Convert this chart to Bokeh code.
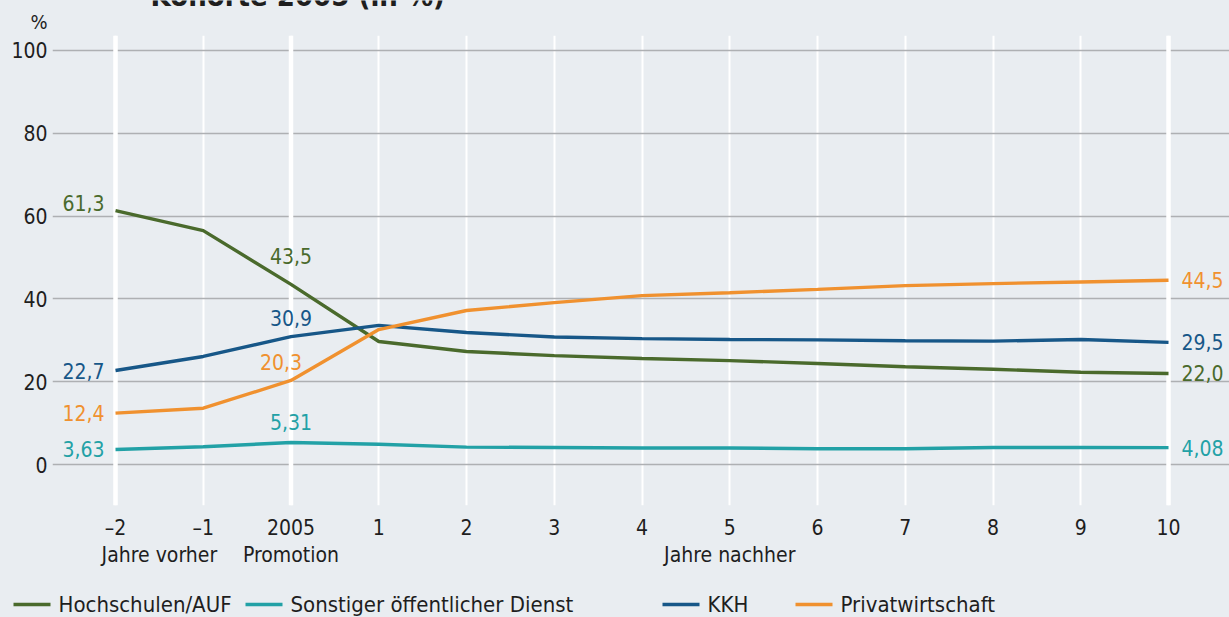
from bokeh.plotting import figure
from bokeh.models import Range1d, FixedTicker, LinearAxis, Span
from bokeh.layouts import column
from bokeh.core.properties import value
from bokeh.embed import file_html
from bokeh.resources import INLINE

# ---- data ----
x_labels = ["–2", "–1", "2005", "1", "2", "3", "4", "5", "6", "7", "8", "9", "10"]
group_labels = ["Jahre vorher", "Promotion", "Jahre nachher"]
group_pos = [0.5, 2, 7]
hochschulen = [61.3, 56.5, 43.5, 29.7, 27.3, 26.3, 25.6, 25.1, 24.4, 23.6, 23.0, 22.3, 22.0]
sonstiger = [3.63, 4.3, 5.31, 4.9, 4.2, 4.1, 4.0, 4.0, 3.8, 3.8, 4.1, 4.1, 4.08]
kkh = [22.7, 26.1, 30.9, 33.6, 31.9, 30.8, 30.4, 30.2, 30.1, 29.9, 29.8, 30.2, 29.5]
privat = [12.4, 13.6, 20.3, 32.6, 37.2, 39.1, 40.8, 41.5, 42.3, 43.2, 43.7, 44.1, 44.5]
series_names = ["Hochschulen/AUF", "Sonstiger öffentlicher Dienst", "KKH", "Privatwirtschaft"]
y_ticks = [0, 20, 40, 60, 80, 100]
title_text = "Kohorte 2005 (in %)"
unit_text = "%"

# ---- style ----
BG = "#e9edf1"
FONT = "'DejaVu Sans Condensed', 'DejaVu Sans', sans-serif"
TXT = "#1e1e1e"
colors = ["#4a6a2c", "#22a1a6", "#175788", "#f0912f"]
FS = "21px"
W = 1229

xs = list(range(len(x_labels)))


def strip(height, y0, y1):
    f = figure(width=W, height=height, output_backend="svg", toolbar_location=None,
               x_range=Range1d(0, W), y_range=Range1d(y0, y1),
               x_axis_location=None, y_axis_location=None, min_border=0,
               frame_align=False)
    f.background_fill_color = BG
    f.border_fill_color = BG
    f.outline_line_color = None
    f.grid.visible = False
    return f


# ---------- top strip: title (cut at top edge, as in source) and unit ----------
top = strip(35, 35, 0)
top.text(x=[150], y=[-5], text=[title_text], text_font=value(FONT), text_font_size="29px",
         text_font_style="bold", text_color=TXT, text_align="left", text_baseline="middle")
top.text(x=[47], y=[21], text=[unit_text], text_font=value(FONT), text_font_size="20px",
         text_color=TXT, text_align="right", text_baseline="middle")

# ---------- main chart ----------
p = figure(width=W, height=540, output_backend="svg", toolbar_location=None,
           x_range=Range1d(-0.718, 12.695), y_range=Range1d(-9.9, 103.62),
           min_border_left=52, min_border_right=0, min_border_top=0, min_border_bottom=70,
           frame_align=False)
p.background_fill_color = BG
p.border_fill_color = BG
p.outline_line_color = None

xa = p.xaxis[0]
xa.ticker = FixedTicker(ticks=xs)
xa.major_label_overrides = {i: s for i, s in zip(xs, x_labels)}
ax2 = LinearAxis(ticker=FixedTicker(ticks=group_pos),
                 major_label_overrides={k: s for k, s in zip(group_pos, group_labels)})
p.add_layout(ax2, "below")
ya = p.yaxis[0]
ya.ticker = FixedTicker(ticks=y_ticks)
for ax in (xa, ax2, ya):
    ax.axis_line_color = None
    ax.major_tick_line_color = None
    ax.minor_tick_line_color = None
    ax.major_tick_out = 0
    ax.major_tick_in = 0
    ax.major_label_text_font = FONT
    ax.major_label_text_font_size = FS
    ax.major_label_text_color = TXT
xa.major_label_standoff = 10
ax2.major_label_standoff = 0
ya.major_label_standoff = 5

p.ygrid.grid_line_color = "#aeb0b3"
p.ygrid.grid_line_width = 1.5
p.xgrid.grid_line_color = "white"
p.xgrid.grid_line_width = 2
for loc in (xs[0], xs[2], xs[-1]):
    p.add_layout(Span(location=loc, dimension="height", line_color="white",
                      line_width=4.5, level="underlay"))

all_series = [hochschulen, sonstiger, kkh, privat]
for vals, c in zip(all_series, colors):
    p.line(xs, vals, line_color=c, line_width=3.4)


def fmt(v, nd):
    return f"{v:.{nd}f}".replace(".", ",")


decimals = [1, 2, 1, 1]
left_dy = [-8, 0, 0, 0]
mid_dy = [-28, -21, -19, -18]
mid_dx = [0, 0, 0, -10]
for vals, c, nd, ldy, mdy, mdx in zip(all_series, colors, decimals, left_dy, mid_dy, mid_dx):
    common = dict(text_color=c, text_font=value(FONT), text_font_size=FS, text_baseline="middle")
    p.text(x=[xs[0]], y=[vals[0]], text=[fmt(vals[0], nd)], text_align="right",
           x_offset=-11, y_offset=ldy, **common)
    p.text(x=[xs[2]], y=[vals[2]], text=[fmt(vals[2], nd)], text_align="center",
           x_offset=mdx, y_offset=mdy, **common)
    p.text(x=[xs[-1]], y=[vals[-1]], text=[fmt(vals[-1], nd)], text_align="left",
           x_offset=13, y_offset=0, **common)

# ---------- legend strip ----------
leg = strip(42, 617, 575)
swatch_x0 = [13, 245, 662, 795]
SW = 37
for name, c, x0 in zip(series_names, colors, swatch_x0):
    leg.segment(x0=[x0], y0=[604], x1=[x0 + SW], y1=[604], line_color=c, line_width=3.5)
    leg.text(x=[x0 + SW + 8], y=[604], text=[name], text_font=value(FONT),
             text_font_size="22px", text_color=TXT, text_align="left", text_baseline="middle")

layout = column(top, p, leg, spacing=0, styles={"background-color": BG})
open("out.html", "w").write(file_html(layout, INLINE))
